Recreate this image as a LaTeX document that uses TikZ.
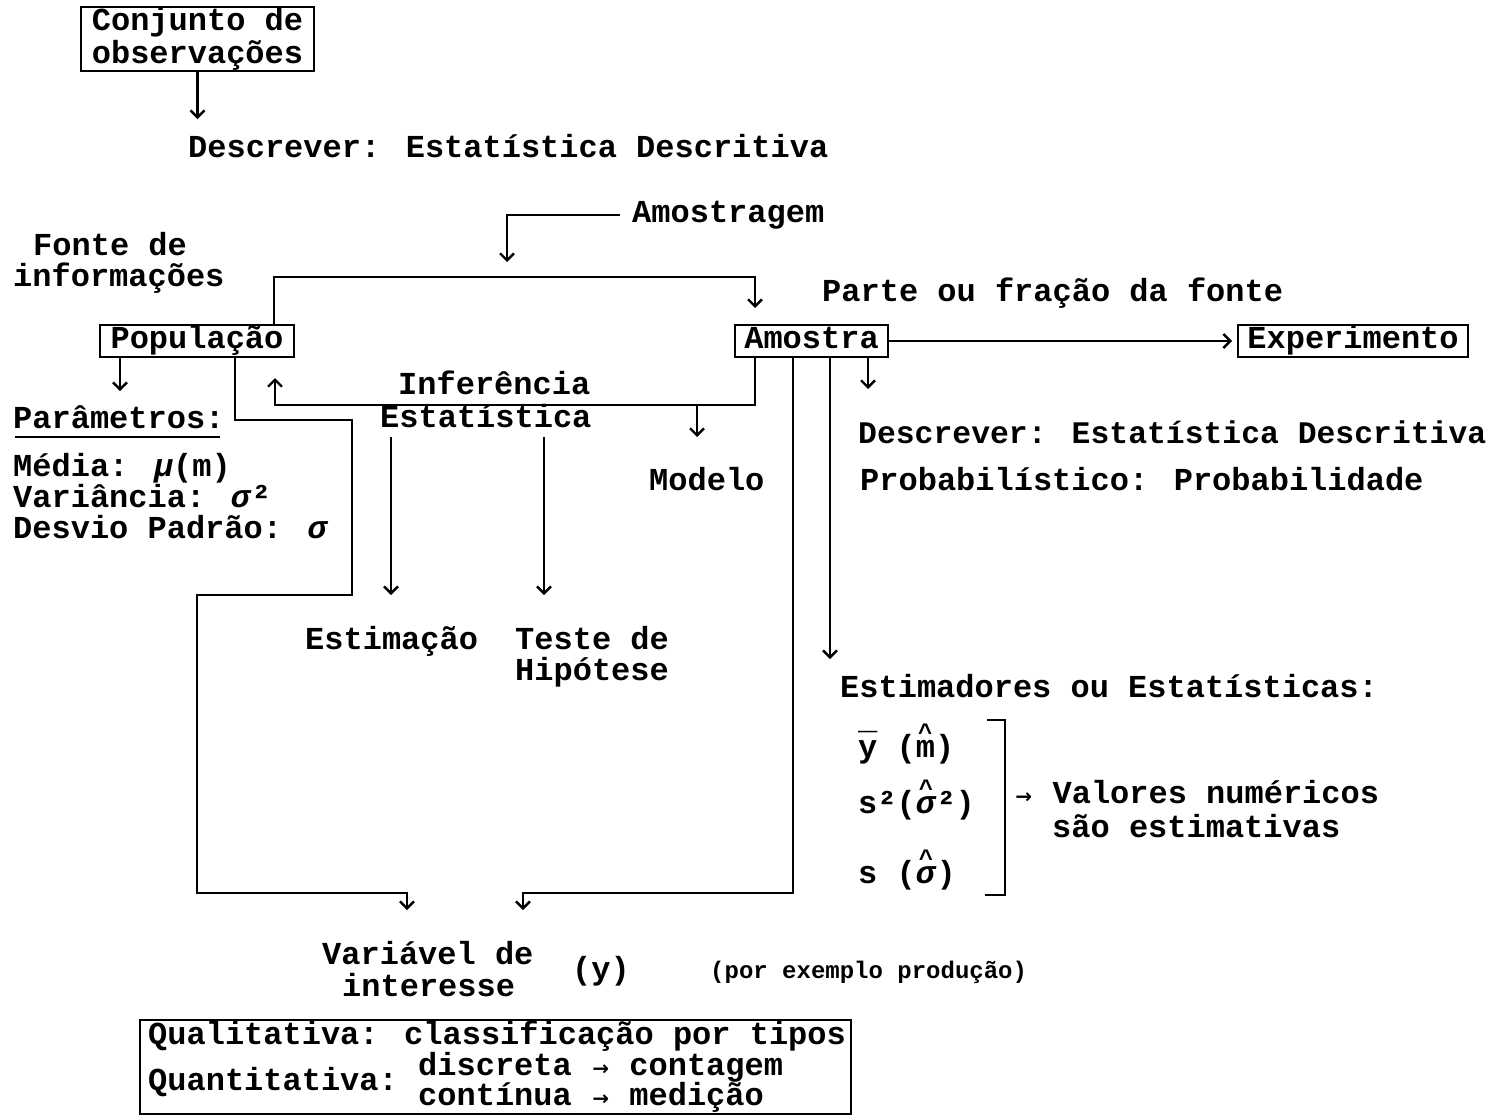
\documentclass[tikz,border=0pt]{standalone}
\usepackage{fontspec}
\setmainfont{Liberation Mono}
\newfontfamily\symf{DejaVu Sans}
\usetikzlibrary{arrows.meta}
\newcommand\hatover[1]{\ooalign{#1\cr\hidewidth\raisebox{0.52em}{\fontsize{24}{24}\selectfont\char"5E}\hidewidth\cr}}
\newcommand\barover[1]{\ooalign{#1\cr\hidewidth\raisebox{0.06em}{\char"AF}\hidewidth\cr}}
\newcommand\rarr{\makebox[0.6em]{\symf\fontsize{20}{20}\selectfont →}}
\begin{document}
\begin{tikzpicture}[x=1pt,y=-1pt,
  every node/.style={font=\fontsize{32}{31}\selectfont\bfseries, inner sep=0pt},
  txt/.style={anchor=base west},
  boxn/.style={draw, line width=2pt, inner sep=0pt, text height=22pt, text depth=8pt},
  ln/.style={line width=2.4pt},
  arr/.style={ln, -{Straight Barb[length=7pt,width=14pt]}},
]
\useasboundingbox[fill=white] (0,0) rectangle (1495,1117);

% boxes
\node[draw, line width=2pt, minimum width=233pt, minimum height=64pt, align=left,
      font=\fontsize{32}{33}\selectfont\bfseries] (conj) at (197.5,39) {Conjunto de\\observações};
\node[boxn, minimum width=194pt, minimum height=32pt] (pop) at (197,341) {População};
\node[boxn, minimum width=153pt, minimum height=32pt] (amo) at (811.5,341) {Amostra};
\node[boxn, minimum width=230pt, minimum height=32pt] (exp) at (1353,341) {Experimento};
\node[draw, line width=2pt, minimum width=711pt, minimum height=94pt] (tipos) at (495.5,1067) {};

% texts
\node[txt] (desc1) at (188,157) {Descrever: Estatística Descritiva};
\node[txt] (amg) at (632,222) {Amostragem};
\node[txt] (fonte1) at (33,255) {Fonte de};
\node[txt] (fonte2) at (13,286) {informações};
\node[txt] (parte) at (822,301) {Parte ou fração da fonte};
\node[txt] (par) at (13,428) {Parâmetros:};
\node[txt] (med) at (13,476) {Média: \textit{μ}(m)};
\node[txt] (vari) at (13,507) {Variância: \textit{σ}²};
\node[txt] (desv) at (13,538) {Desvio Padrão: \textit{σ}};
\node[txt] (inf1) at (398,394) {Inferência};
\node[txt] (inf2) at (380,427) {Estatística};
\node[txt] (modelo) at (649,490) {Modelo};
\node[txt, font=\fontsize{31.4}{31}\selectfont\bfseries] (desc2) at (858,443) {Descrever: Estatística Descritiva};
\node[txt] (prob) at (860,490) {Probabilístico: Probabilidade};
\node[txt] (estim) at (305,649) {Estimação};
\node[txt] (teste1) at (515,649) {Teste de};
\node[txt] (teste2) at (515,680) {Hipótese};
\node[txt] (estmd) at (840,697) {Estimadores ou Estatísticas:};
\node[txt] (ybar) at (858,757) {\barover{y} (\hatover{m})};
\node[txt] (s2) at (858,813) {s²(\hatover{\textit{σ}}²)};
\node[txt] (s1) at (858,883) {s (\hatover{\textit{σ}})};
\node[txt] (val1) at (1014,803) {\rarr{} Valores numéricos};
\node[txt] (val2) at (1052,837) {são estimativas};
\node[txt] (vint1) at (322,964) {Variável de};
\node[txt] (vint2) at (342,996) {interesse};
\node[txt] (yv) at (572,979) {(y)};
\node[txt, font=\fontsize{24}{24}\selectfont\bfseries] (ex) at (710,978) {(por exemplo produção)};
\node[txt] (q1) at (148,1044) {Qualitativa: classificação por tipos};
\node[txt] (q2) at (148,1090) {Quantitativa:};
\node[txt] (q3) at (418,1075) {discreta \rarr{} contagem};
\node[txt] (q4) at (418,1105) {contínua \rarr{} medição};

% underline
\draw[line width=2pt] ([yshift=-9pt]par.base west) ++(2,0) -- ([yshift=-9pt,xshift=-5pt]par.base east);

% connectors
\draw[arr] (conj.south) -- ++(0,47);
\draw[arr] ([xshift=-12pt]amg.west) -| (507,262);
\draw[arr] ([xshift=77pt]pop.north) |- (755,277) -- ([xshift=-56.5pt,yshift=16pt]amo.north);
\draw[arr] ([xshift=-77pt]pop.south) -- ++(0,33);
\draw[arr] ([xshift=38pt]pop.south) |- (352,420) |- (197,595) |- (407,893) -- (407,910);
\draw[arr] ([xshift=-56.5pt]amo.south) |- (275,405) -- ([xshift=78pt,yshift=-20pt]pop.south);
\draw[arr] (697,405) -- (697,437);
\draw[arr] (391,437) -- (391,595);
\draw[arr] (544,437) -- (544,595);
\draw[arr] ([xshift=-18.5pt]amo.south) |- (523,893) -- (523,910);
\draw[arr] ([xshift=18.5pt]amo.south) -- ++(0,301);
\draw[arr] ([xshift=56.5pt]amo.south) -- ++(0,31);
\draw[arr, shorten >=5pt] (amo.east) -- (exp.west);

% bracket
\draw[ln] (987,720) -- (1005,720) -- (1005,895) -- (985,895);
\end{tikzpicture}
\end{document}
